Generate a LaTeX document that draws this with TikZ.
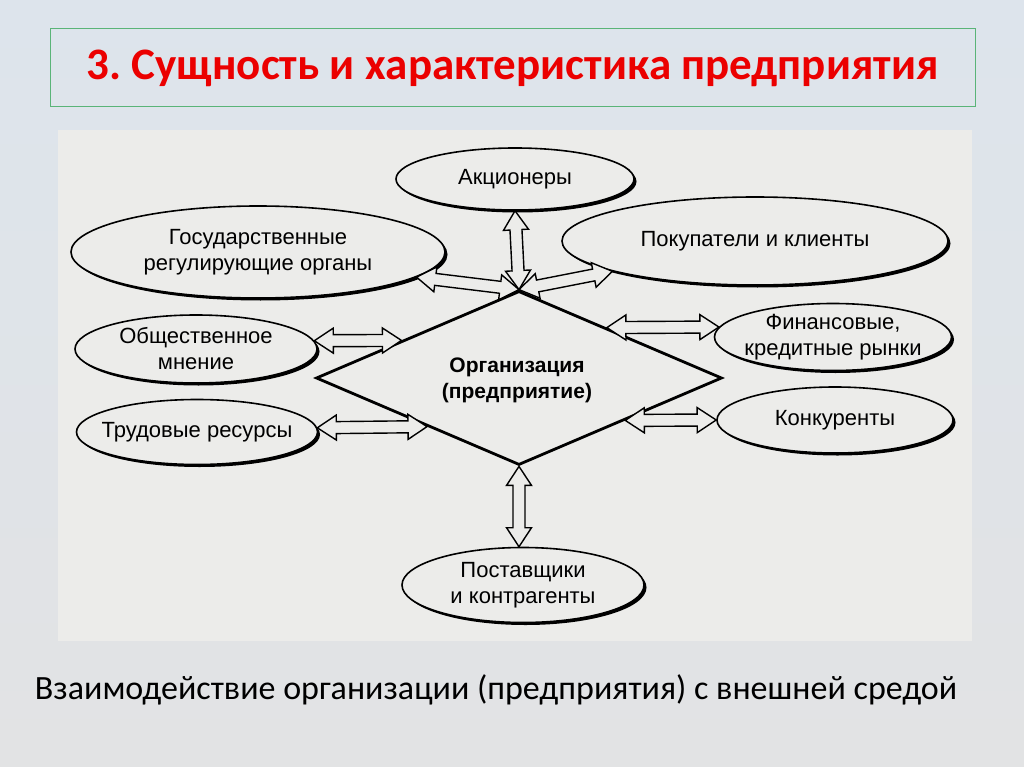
\documentclass[tikz,border=0pt]{standalone}
\usepackage{fontspec}
\setmainfont{Liberation Sans}
\newfontfamily\calib{Carlito}
\usetikzlibrary{shapes.geometric,calc}
\frenchspacing
\definecolor{slidebg}{RGB}{221,228,236}
\definecolor{slidebot}{RGB}{226,227,228}
\definecolor{scanbg}{RGB}{236,236,234}
\definecolor{titlegreen}{RGB}{90,180,120}
\definecolor{titlered}{RGB}{235,0,0}
\tikzset{
  oval/.style={ellipse, draw=black, line width=1.6pt, fill=scanbg, inner sep=0pt},
  ovaltext/.style={inner sep=0pt, align=center, font=\fontsize{22}{26}\selectfont},
  ovalshadow/.style={ellipse, fill=black, inner sep=0pt},
  harrow/.style={draw=black, line width=1.4pt, fill=scanbg, line join=miter},
  orgbox/.style={diamond, draw=black, line width=2.8pt, fill=scanbg, inner sep=0pt},
  orgtext/.style={inner sep=0pt, align=center, font=\bfseries\fontsize{21}{26}\selectfont},
}
% name, x, y, width, height, text
\newcommand{\ovalnode}[6]{%
  \node[ovalshadow, minimum width=#4pt, minimum height=#5pt] at (#2+2.5,#3+2.5) {};
  \node[oval, minimum width=#4pt, minimum height=#5pt] (#1) at (#2,#3) {};
  \node[ovaltext] (#1-t) at (#1.center) {#6};
}
% hollow double-headed arrow between two named points
\newcommand{\dblarr}[2]{%
  \coordinate (ah) at ($(#1)!19pt!(#2)$);
  \coordinate (bh) at ($(#2)!19pt!(#1)$);
  \draw[harrow] (#1) -- ($(ah)!12.5pt!90:(#2)$) -- ($(ah)!6pt!90:(#2)$)
    -- ($(bh)!6pt!-90:(#1)$) -- ($(bh)!12.5pt!-90:(#1)$) -- (#2)
    -- ($(bh)!12.5pt!90:(#1)$) -- ($(bh)!6pt!90:(#1)$)
    -- ($(ah)!6pt!-90:(#2)$) -- ($(ah)!12.5pt!-90:(#2)$) -- cycle;
}
\begin{document}
\begin{tikzpicture}[x=1pt,y=-1pt]
\useasboundingbox (0,0) rectangle (1024,767);
\shade[top color=slidebg, bottom color=slidebot] (0,0) rectangle (1024,767);
% title
\node[draw=titlegreen, line width=1pt, minimum width=925pt, minimum height=78pt,
  inner sep=0pt, text=titlered, font=\calib\bfseries\fontsize{45}{50}\selectfont]
  (title) at (512.5,68) {3. Сущность и характеристика предприятия};
% scanned picture area
\fill[scanbg] (58,130) rectangle (972,641);
% centre
\node[orgbox, minimum width=406pt, minimum height=174pt, aspect=2.33]
  (org) at (519,378) {};
\node[orgtext] (org-t) at (517,380) {Организация\\(предприятие)};
% ellipses
\ovalnode{akc}{515}{179}{238}{62}{Акционеры}
\ovalnode{gos}{258}{252}{374}{92}{Государственные\\регулирующие органы}
\ovalnode{pok}{755}{241}{386}{88}{Покупатели и клиенты}
\ovalnode{obs}{196}{349}{242}{68}{Общественное\\мнение}
\ovalnode{trud}{197}{432}{241}{65}{Трудовые ресурсы}
\ovalnode{fin}{833}{337}{237}{67}{Финансовые,\\кредитные рынки}
\ovalnode{kon}{835}{420}{236}{66}{Конкуренты}
\ovalnode{post}{523}{585}{242}{75}{Поставщики\\и контрагенты}
% edge points on the diamond
\coordinate (eobs) at ($(org.west)!0.425!(org.north)$);
\coordinate (etrud) at ($(org.west)!0.55!(org.south)$);
\coordinate (efin) at ($(org.north)!0.43!(org.east)$);
\coordinate (ekon) at ($(org.east)!0.48!(org.south)$);
\coordinate (epost) at (org.south |- post.north);
% arrows
\dblarr{akc.south}{org.north}
\dblarr{gos.-9}{org.north}
\dblarr{pok.192}{org.north}
\dblarr{obs.4}{eobs}
\dblarr{trud.2}{etrud}
\dblarr{fin.175.5}{efin}
\dblarr{kon.west}{ekon}
\dblarr{epost}{org.south}
% caption
\node[font=\calib\fontsize{34}{40}\selectfont] (cap) at (496,690)
  {Взаимодействие организации (предприятия) с внешней средой};
\end{tikzpicture}
\end{document}
